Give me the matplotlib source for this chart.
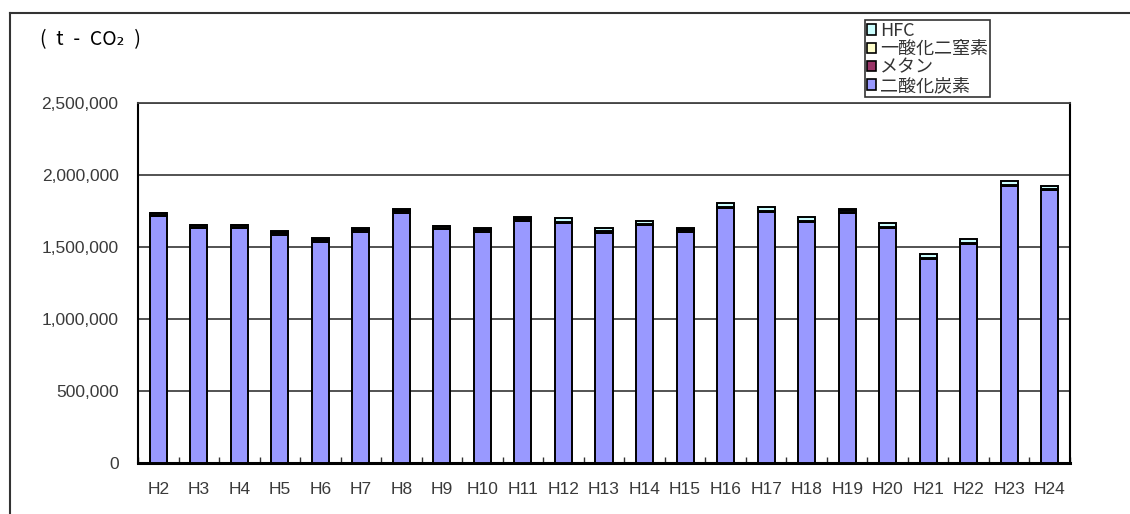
import matplotlib
matplotlib.use("Agg")
import matplotlib.pyplot as plt
from matplotlib.patches import Patch
from matplotlib.lines import Line2D
import numpy as np

plt.rcParams["font.family"] = ["Liberation Sans", "DejaVu Sans"]

# Fiscal years (Heisei)
years = ["H2", "H3", "H4", "H5", "H6", "H7", "H8", "H9", "H10", "H11", "H12",
         "H13", "H14", "H15", "H16", "H17", "H18", "H19", "H20", "H21", "H22",
         "H23", "H24"]

# Emissions by gas (t-CO2)
co2 = [1712000, 1629000, 1629000, 1582000, 1536000, 1603000, 1738000, 1622000,
       1603000, 1679000, 1665000, 1599000, 1650000, 1607000, 1770000, 1742000,
       1672000, 1736000, 1631000, 1418000, 1522000, 1922000, 1893000]
methane = [12000, 12000, 12000, 12000, 12000, 12000, 12000, 12000, 12000, 12000,
           4000, 4000, 4000, 10000, 4000, 4000, 4000, 10000, 4000, 4000, 4000,
           4000, 4000]
n2o = [10000, 10000, 10000, 10000, 10000, 10000, 10000, 10000, 10000, 10000,
       5000, 5000, 5000, 10000, 5000, 5000, 5000, 10000, 5000, 5000, 5000,
       5000, 5000]
hfc = [4000, 4000, 4000, 4000, 4000, 4000, 4000, 4000, 4000, 4000, 24000,
       24000, 24000, 5000, 24000, 24000, 24000, 5000, 24000, 24000, 24000,
       24000, 24000]

series_names = ["二酸化炭素", "メタン", "一酸化二窒素", "HFC"]
series_colors = ["#9999FF", "#993366", "#FFFFCC", "#CCFFFF"]
y_ticks = [0, 500000, 1000000, 1500000, 2000000, 2500000]

W, H = 1130, 514
fig = plt.figure(figsize=(W / 100, H / 100), dpi=100)
fig.patch.set_facecolor("white")

ax = fig.add_axes([138 / W, 1 - 463 / H, (1070 - 138) / W, (463 - 103) / H])

x = np.arange(len(years))
bottom = np.zeros(len(years))
for vals, name, col in zip([co2, methane, n2o, hfc], series_names, series_colors):
    v = np.array(vals, dtype=float)
    ax.bar(x, v, width=0.42, bottom=bottom, color=col, edgecolor="black",
           linewidth=1.4, zorder=3)
    bottom += v

ax.set_xlim(-0.5, len(years) - 0.5)
ax.set_ylim(0, 2500000)
ax.set_yticks(y_ticks)
ax.set_yticklabels([f"{v:,}" for v in y_ticks])
ax.yaxis.grid(True, color="#444444", linewidth=1.3, zorder=0)
ax.set_axisbelow(True)

ax.set_xticks(x)
ax.set_xticklabels(years)
ax.set_xticks(np.arange(len(years) + 1) - 0.5, minor=True)
ax.tick_params(axis="x", which="major", length=0, pad=14, labelsize=12.5,
               labelcolor="#3a3a3a")
ax.tick_params(axis="x", which="minor", direction="in", length=4,
               width=1, color="#333333")
ax.tick_params(axis="y", length=0, pad=14, labelsize=12.5, labelcolor="#3a3a3a")

for side in ["left", "right"]:
    ax.spines[side].set_color("black")
    ax.spines[side].set_linewidth(1.5)
ax.spines["bottom"].set_color("black")
ax.spines["bottom"].set_linewidth(2.2)
ax.spines["top"].set_color("#444444")
ax.spines["top"].set_linewidth(1.3)

# Outer frame (left and top edges)
fig.add_artist(Line2D([10 / W, 10 / W], [0, 1 - 13 / H], color="#333333",
                      linewidth=1.5, transform=fig.transFigure))
fig.add_artist(Line2D([10 / W, 1], [1 - 13 / H, 1 - 13 / H], color="#333333",
                      linewidth=1.5, transform=fig.transFigure))

# Unit label
fig.text(40 / W, 1 - 40 / H, "(\u2002t\u2002-\u2002CO₂\u2002)", fontsize=14,
         family=["Noto Sans CJK JP", "DejaVu Sans"], color="black",
         ha="left", va="center")

# Legend (top series first)
handles = [Patch(facecolor=c, edgecolor="black", linewidth=1.2)
           for c in series_colors][::-1]
labels = series_names[::-1]
leg = fig.legend(handles, labels, loc="upper left",
                 bbox_to_anchor=(865 / W, 1 - 20 / H),
                 bbox_transform=fig.transFigure,
                 prop={"family": ["Noto Sans CJK JP", "DejaVu Sans"], "size": 13},
                 frameon=True, fancybox=False, edgecolor="#333333",
                 framealpha=1, borderpad=0.1, labelspacing=0.02,
                 handlelength=0.5, handleheight=0.5, handletextpad=0.25,
                 borderaxespad=0)
leg.get_frame().set_linewidth(1.2)
leg.set_zorder(10)
for t in leg.get_texts():
    t.set_color("#333333")

fig.savefig("out.png", dpi=100, facecolor="white")
